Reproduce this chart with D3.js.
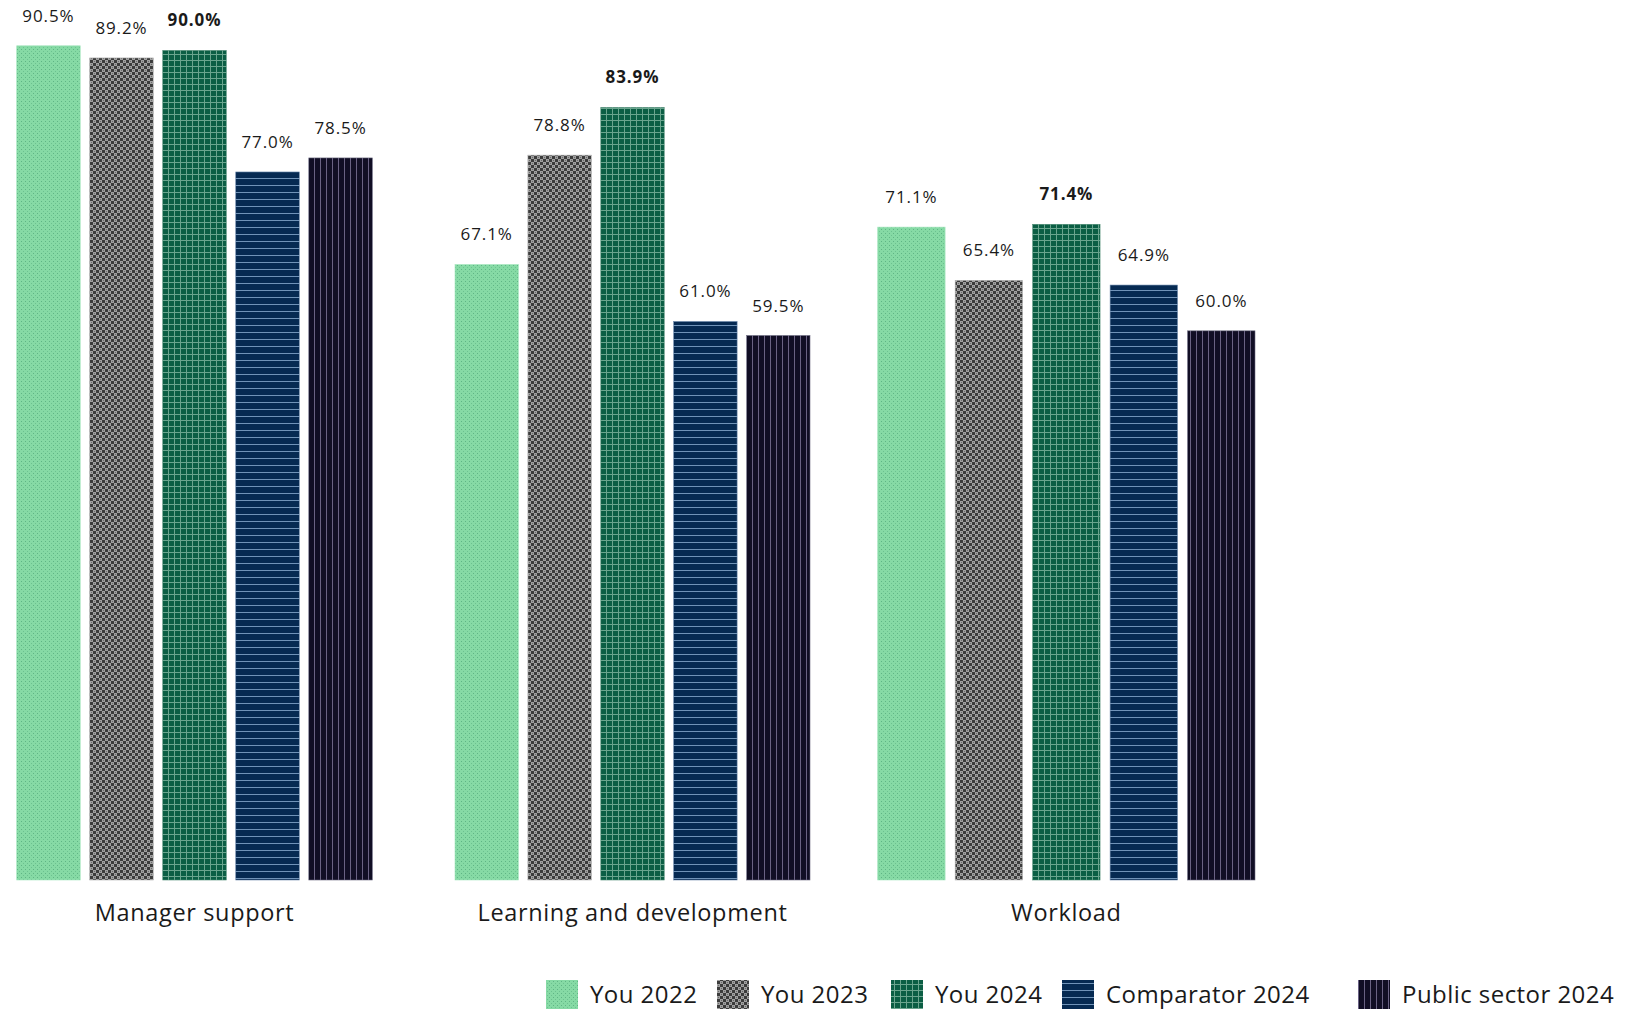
<!DOCTYPE html>
<html>
<head>
<meta charset="utf-8">
<script src="https://cdn.jsdelivr.net/npm/d3@7"></script>
<style>
  html, body { margin: 0; padding: 0; background: #ffffff; }
  svg { display: block; }
  text { font-family: "Open Sans", "Noto Sans", sans-serif; fill: #1a1a1a; }
</style>
</head>
<body>
<svg id="chart" width="1643" height="1009"></svg>
<script>
// ---- data ----
const categories = ["Manager support", "Learning and development", "Workload"];
const seriesNames = ["You 2022", "You 2023", "You 2024", "Comparator 2024", "Public sector 2024"];
const you2022 = [90.5, 67.1, 71.1];
const you2023 = [89.2, 78.8, 65.4];
const you2024 = [90.0, 83.9, 71.4];
const comparator2024 = [77.0, 61.0, 64.9];
const publicSector2024 = [78.5, 59.5, 60.0];
const seriesValues = [you2022, you2023, you2024, comparator2024, publicSector2024];
const boldSeries = "You 2024";

// ---- layout ----
const baseline = 880;
const groupRanges = [[16.7, 372.3], [455, 810], [877.7, 1255]];
const legendX = [546, 717, 891, 1062, 1358];

const svg = d3.select("#chart");
const defs = svg.append("defs");

// patterns
function pat(id, w, h, build) {
  const p = defs.append("pattern").attr("id", id)
    .attr("patternUnits", "userSpaceOnUse").attr("width", w).attr("height", h);
  build(p);
}
pat("p0", 4, 4, p => {
  p.append("rect").attr("width", 4).attr("height", 4).attr("fill", "#86daa5");
  p.append("rect").attr("x", 1).attr("y", 1).attr("width", 1).attr("height", 1).attr("fill", "#5fb585");
  p.append("rect").attr("x", 3).attr("y", 3).attr("width", 1).attr("height", 1).attr("fill", "#6cc290");
});
pat("p1", 6, 6, p => {
  p.append("rect").attr("width", 6).attr("height", 6).attr("fill", "#a0a0a0");
  p.append("rect").attr("width", 3).attr("height", 3).attr("fill", "#3c3c3c");
  p.append("rect").attr("x", 3).attr("y", 3).attr("width", 3).attr("height", 3).attr("fill", "#3c3c3c");
  p.append("rect").attr("x", 1).attr("y", 4).attr("width", 1).attr("height", 1).attr("fill", "#6a6a6a");
  p.append("rect").attr("x", 4).attr("y", 1).attr("width", 1).attr("height", 1).attr("fill", "#6a6a6a");
});
pat("p2", 6, 6, p => {
  p.append("rect").attr("width", 6).attr("height", 6).attr("fill", "#0b5e44");
  p.append("rect").attr("x", 0).attr("y", 0).attr("width", 1).attr("height", 6).attr("fill", "#6aa58e");
  p.append("rect").attr("x", 0).attr("y", 0).attr("width", 6).attr("height", 1).attr("fill", "#6aa58e");
});
pat("p3", 7, 7, p => {
  p.append("rect").attr("width", 7).attr("height", 7).attr("fill", "#062a52");
  p.append("rect").attr("x", 0).attr("y", 3).attr("width", 7).attr("height", 1).attr("fill", "#7093b8");
});
pat("p4", 6, 6, p => {
  p.append("rect").attr("width", 6).attr("height", 6).attr("fill", "#110e25");
  p.append("rect").attr("x", 2).attr("y", 0).attr("width", 1).attr("height", 6).attr("fill", "#6a6284");
});
const fills = ["url(#p0)", "url(#p1)", "url(#p2)", "url(#p3)", "url(#p4)"];
const strokes = ["#a6e6be", "#b0b0b0", "#4c8a73", "#6b88ab", "#6b6a80"];

// scales (value axis does not start exactly at zero in the reference)
const y = d3.scaleLinear().domain([1.24, 95.4]).range([baseline, 0]);

categories.forEach((cat, ci) => {
  const x = d3.scaleBand().domain(seriesNames).range(groupRanges[ci])
    .paddingInner(0.13).paddingOuter(0);
  const g = svg.append("g").attr("class", "group");
  const rows = seriesNames.map((s, si) => ({ s, si, v: seriesValues[si][ci] }));

  g.selectAll("rect.bar").data(rows).join("rect")
    .attr("class", "bar")
    .attr("x", d => x(d.s))
    .attr("y", d => y(d.v))
    .attr("width", x.bandwidth())
    .attr("height", d => baseline - y(d.v))
    .attr("fill", d => fills[d.si])
    .attr("stroke", d => strokes[d.si])
    .attr("stroke-width", 0.6);

  g.selectAll("text.val").data(rows).join("text")
    .attr("class", "val")
    .attr("x", d => x(d.s) + x.bandwidth() / 2)
    .attr("y", d => y(d.v) - 24)
    .attr("text-anchor", "middle")
    .attr("font-size", 17)
    .attr("letter-spacing", 0.9)
    .attr("font-weight", d => d.s === boldSeries ? 700 : 400)
    .text(d => d.v.toFixed(1) + "%");

  g.append("text")
    .attr("x", (groupRanges[ci][0] + groupRanges[ci][1]) / 2)
    .attr("y", 921)
    .attr("text-anchor", "middle")
    .attr("font-size", 23.5)
    .attr("letter-spacing", 0.65)
    .text(cat);
});

// legend
const lg = svg.append("g").attr("class", "legend");
seriesNames.forEach((s, si) => {
  lg.append("rect").attr("x", legendX[si]).attr("y", 980)
    .attr("width", 32).attr("height", 32).attr("fill", fills[si]);
  lg.append("text").attr("x", legendX[si] + 44).attr("y", 1003)
    .attr("font-size", 24).attr("letter-spacing", 0.45).text(s);
});
</script>
</body>
</html>
